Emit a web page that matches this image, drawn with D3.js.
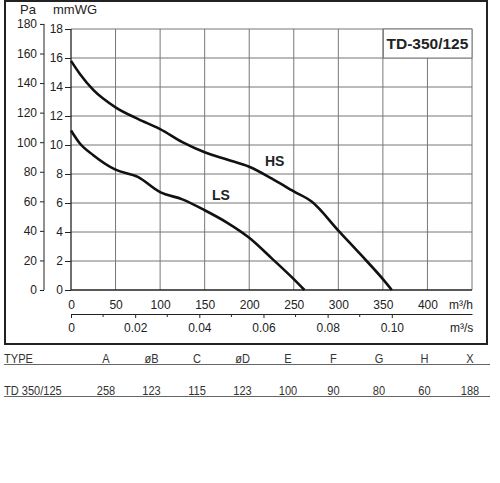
<!DOCTYPE html>
<meta charset="utf-8">
<script src="https://d3js.org/d3.v7.min.js"></script>
<style>
  body { margin: 0; background: #fff; }
  text { font-family: "Liberation Sans", Arial, sans-serif; fill: #222; }
  .tbl text { font-family: "Liberation Sans", Arial, sans-serif; fill: #333; }
</style>
<div id="my_dataviz"></div>
<script>

// fan curves, flow in m3/h, pressure in mmWG
var flowHS  = [0, 10, 25, 50, 75, 100, 125, 150, 175, 200, 225, 250, 270, 300, 325, 350, 360];
var pressHS = [15.8, 14.9, 13.8, 12.6, 11.8, 11.1, 10.2, 9.5, 9.0, 8.5, 7.7, 6.8, 6.1, 4.1, 2.45, 0.75, 0];
var flowLS  = [0, 10, 25, 50, 75, 100, 125, 150, 175, 200, 225, 250, 262];
var pressLS = [11.0, 10.1, 9.3, 8.3, 7.8, 6.75, 6.25, 5.5, 4.65, 3.6, 2.2, 0.75, 0];

// axis ticks
var flowTicks  = [0, 50, 100, 150, 200, 250, 300, 350, 400];
var m3sTicks   = [0, 0.02, 0.04, 0.06, 0.08, 0.10];
var m3sMinor   = [0.01, 0.03, 0.05, 0.07, 0.09];
var mmwgTicks  = [0, 2, 4, 6, 8, 10, 12, 14, 16, 18];
var paTicks    = [0, 20, 40, 60, 80, 100, 120, 140, 160, 180];

// dimension table
var tableHeaders = ["TYPE", "A", "øB", "C", "øD", "E", "F", "G", "H", "X"];
var tableRow     = ["TD 350/125", "258", "123", "115", "123", "100", "90", "80", "60", "188"];

var W = 500, H = 483;
var svg = d3.select("#my_dataviz")
  .append("svg")
    .attr("width", W)
    .attr("height", H);

// outer frame
svg.append("rect")
  .attr("x", 5).attr("y", 1)
  .attr("width", 482).attr("height", 343)
  .attr("fill", "none")
  .attr("stroke", "#222")
  .attr("stroke-width", 2);

var pLeft = 71, pRight = 472, pTop = 29, pBottom = 290;

var x = d3.scaleLinear().domain([0, 450]).range([pLeft, pRight]);
var y = d3.scaleLinear().domain([0, 18]).range([pBottom, pTop]);
// 1 mmWG = 9.81 Pa, 1 m3/s = 3600 m3/h
var yPa = d3.scaleLinear().domain([0, 18 * 9.81]).range([pBottom, pTop]);
var xs = d3.scaleLinear().domain([0, 450 / 3600]).range([pLeft, pRight]);

// grid
var grid = svg.append("g").attr("stroke", "#777").attr("stroke-width", 1);
grid.selectAll(".v")
  .data(d3.range(50, 451, 50))
  .enter().append("line")
    .attr("x1", function(d) { return x(d); })
    .attr("x2", function(d) { return x(d); })
    .attr("y1", pTop).attr("y2", pBottom);
grid.selectAll(".h")
  .data(d3.range(2, 19, 2))
  .enter().append("line")
    .attr("y1", function(d) { return y(d); })
    .attr("y2", function(d) { return y(d); })
    .attr("x1", pLeft).attr("x2", pRight);

// left + bottom borders of the plot
svg.append("line")
  .attr("x1", pLeft).attr("x2", pLeft).attr("y1", pTop).attr("y2", pBottom)
  .attr("stroke", "#222").attr("stroke-width", 1.3);
svg.append("line")
  .attr("x1", pLeft).attr("x2", pRight).attr("y1", pBottom).attr("y2", pBottom)
  .attr("stroke", "#222").attr("stroke-width", 1.3);

// title box
svg.append("rect")
  .attr("x", x(350) + 0.5).attr("y", pTop)
  .attr("width", pRight - x(350) - 0.5).attr("height", y(16) - pTop)
  .attr("fill", "#fff")
  .attr("stroke", "#777");
svg.append("text")
  .attr("x", (x(350) + pRight) / 2).attr("y", 48.5)
  .attr("text-anchor", "middle")
  .attr("font-size", 15.5)
  .attr("font-weight", "bold")
  .text("TD-350/125");

// curves
var line = d3.line()
  .x(function(d) { return x(d[0]); })
  .y(function(d) { return y(d[1]); })
  .curve(d3.curveMonotoneX);

svg.append("path")
  .datum(d3.zip(flowHS, pressHS))
  .attr("d", line)
  .attr("fill", "none").attr("stroke", "#111").attr("stroke-width", 2.6);
svg.append("path")
  .datum(d3.zip(flowLS, pressLS))
  .attr("d", line)
  .attr("fill", "none").attr("stroke", "#111").attr("stroke-width", 2.6);

svg.append("text").attr("x", 265).attr("y", 166)
  .attr("font-size", 14).attr("font-weight", "bold").text("HS");
svg.append("text").attr("x", 212).attr("y", 200)
  .attr("font-size", 14).attr("font-weight", "bold").text("LS");

// mmWG axis
var gy = svg.append("g")
  .attr("transform", "translate(" + pLeft + ",0)")
  .call(d3.axisLeft(y).tickValues(mmwgTicks).tickSize(6).tickSizeOuter(0).tickPadding(2));
gy.select(".domain").remove();

// Pa axis
var gpa = svg.append("g")
  .attr("transform", "translate(44,0)")
  .call(d3.axisLeft(yPa).tickValues(paTicks).tickSize(4).tickSizeOuter(0).tickPadding(3));
gpa.select(".domain").attr("d", "M0," + yPa(180) + "V" + pBottom);

// m3/h axis
var gx = svg.append("g")
  .attr("transform", "translate(0," + pBottom + ")")
  .call(d3.axisBottom(x).tickValues(flowTicks).tickSize(0).tickPadding(10));
gx.select(".domain").remove();

// m3/s axis
var gxs = svg.append("g")
  .attr("transform", "translate(0,314)")
  .call(d3.axisBottom(xs).tickValues(m3sTicks).tickSize(4).tickSizeOuter(0).tickPadding(5)
    .tickFormat(function(d) { return d === 0 ? "0" : d3.format(".2f")(d); }));
gxs.selectAll(".minor")
  .data(m3sMinor)
  .enter().append("line")
    .attr("x1", function(d) { return xs(d); })
    .attr("x2", function(d) { return xs(d); })
    .attr("y1", 0).attr("y2", 3)
    .attr("stroke", "#222");

svg.selectAll(".tick text").attr("font-size", 12).attr("fill", "#222");
svg.selectAll(".tick line, .domain").attr("stroke", "#222");

// unit labels
svg.append("text").attr("x", 20).attr("y", 14).attr("font-size", 13).text("Pa");
svg.append("text").attr("x", 53).attr("y", 14).attr("font-size", 13).text("mmWG");
svg.append("text").attr("x", 449).attr("y", 309).attr("font-size", 12).text("m³/h");
svg.append("text").attr("x", 450).attr("y", 332).attr("font-size", 12).text("m³/s");

// dimension table (squeezed horizontally to look condensed)
var col = d3.scalePoint().domain(d3.range(1, tableHeaders.length)).range([106, 470]);
var tbl = svg.append("g").attr("class", "tbl");
[[tableHeaders, 363], [tableRow, 395]].forEach(function(r) {
  tbl.append("line")
    .attr("x1", 4).attr("x2", 490)
    .attr("y1", r[1] + 1.5).attr("y2", r[1] + 1.5)
    .attr("stroke", "#666").attr("stroke-width", 1);
  tbl.selectAll(null)
    .data(r[0])
    .enter().append("text")
      .attr("transform", function(d, i) {
        return "translate(" + (i === 0 ? 4 : col(i)) + "," + r[1] + ") scale(0.82,1)";
      })
      .attr("text-anchor", function(d, i) { return i === 0 ? "start" : "middle"; })
      .attr("font-size", 13.5)
      .text(function(d) { return d; });
});

</script>
